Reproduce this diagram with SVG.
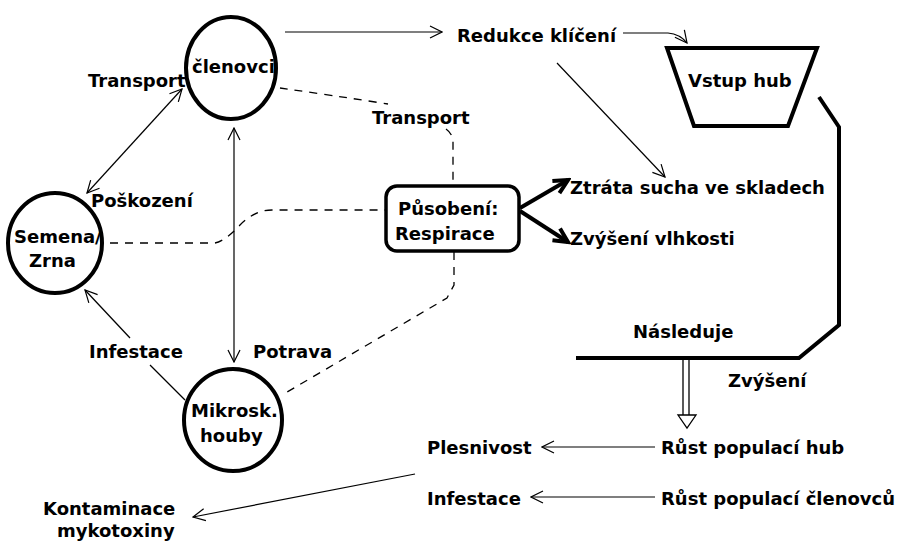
<svg xmlns="http://www.w3.org/2000/svg" width="902" height="541" viewBox="0 0 902 541">
<style>
text{font-family:"DejaVu Sans","Liberation Sans",sans-serif;font-weight:bold;font-size:18px;fill:#000}
.node{fill:#fff;stroke:#000;stroke-width:4}
.thin{fill:none;stroke:#000;stroke-width:1.2}
.dash{fill:none;stroke:#000;stroke-width:1.3;stroke-dasharray:8 7}
.thick{fill:none;stroke:#000;stroke-width:4}
</style>
<defs>
<marker id="open" markerUnits="userSpaceOnUse" markerWidth="14" markerHeight="14" viewBox="0 0 14 14" refX="13" refY="7" orient="auto-start-reverse">
<path d="M1,1 L13,7 L1,13" fill="none" stroke="#000" stroke-width="1.2"/>
</marker>
<marker id="bold" markerUnits="userSpaceOnUse" markerWidth="20" markerHeight="20" viewBox="0 0 20 20" refX="17" refY="10" orient="auto">
<path d="M3,3 L17,10 L3,17" fill="none" stroke="#000" stroke-width="4"/>
</marker>
<marker id="hollow" markerUnits="userSpaceOnUse" markerWidth="22" markerHeight="16" viewBox="0 0 22 16" refX="2" refY="8" orient="auto">
<path d="M1,1 L14,8 L1,15 Z" fill="#fff" stroke="#000" stroke-width="1.3"/>
</marker>
</defs>

<g id="connectors">
<line class="thin" x1="285" y1="32" x2="442" y2="32" marker-end="url(#open)"/>
<path class="thin" d="M623,33 L668,33 Q680,34 687,43" marker-end="url(#open)"/>
<line class="thin" x1="557" y1="63" x2="665" y2="177" marker-end="url(#open)"/>
<line class="thin" x1="182" y1="89" x2="87" y2="193" marker-start="url(#open)" marker-end="url(#open)"/>
<line class="thin" x1="234" y1="128" x2="234" y2="362" marker-start="url(#open)" marker-end="url(#open)"/>
<line class="thin" x1="185" y1="400" x2="150" y2="365"/>
<line class="thin" x1="130" y1="338" x2="85" y2="290" marker-end="url(#open)"/>
<line class="thin" x1="415" y1="474" x2="193" y2="517" marker-end="url(#open)"/>
<line class="thin" x1="655" y1="447" x2="542" y2="447" marker-end="url(#open)"/>
<line class="thin" x1="655" y1="497" x2="531" y2="497" marker-end="url(#open)"/>
<path class="dash" d="M280,88 Q330,95 388,104"/>
<path class="dash" d="M446,129 Q453,134 453,142 L453,185"/>
<path class="dash" d="M454,252 L454,285 L447,298 L282,395"/>
<path class="dash" d="M110,243 L215,243 Q225,241 240,225 Q255,210 272,210 L385,210"/>
<line x1="520" y1="208" x2="568" y2="180" stroke="#000" stroke-width="4" marker-end="url(#bold)"/>
<line x1="520" y1="211" x2="568" y2="242" stroke="#000" stroke-width="4" marker-end="url(#bold)"/>
<polyline class="thick" points="819,97 839,127 839,325 799,358 576,358"/>
<line x1="683" y1="360" x2="683" y2="415" stroke="#000" stroke-width="1.3"/>
<line x1="689" y1="360" x2="689" y2="415" stroke="#000" stroke-width="1.3"/>
<path d="M678,415 L696,415 L687,428 Z" fill="#fff" stroke="#000" stroke-width="1.3"/>
</g>

<g id="clenovci">
<ellipse class="node" cx="231" cy="68" rx="45" ry="51"/>
<text x="192" y="73">členovci</text>
</g>
<g id="semena">
<ellipse class="node" cx="55" cy="243" rx="47" ry="50"/>
<text x="14" y="243">Semena/</text>
<text x="29" y="267">Zrna</text>
</g>
<g id="mikrosk">
<ellipse class="node" cx="233" cy="420" rx="49" ry="51"/>
<text x="191" y="417">Mikrosk.</text>
<text x="200" y="442">houby</text>
</g>
<g id="pusobeni">
<rect x="386" y="186" width="133" height="65" rx="11" fill="#fff" stroke="#000" stroke-width="3.5"/>
<text x="398" y="215">Působení:</text>
<text x="395" y="240">Respirace</text>
</g>
<g id="vstup">
<polygon points="667,48 817,48 788,126 694,126" fill="#fff" stroke="#000" stroke-width="4"/>
<text x="688" y="87">Vstup hub</text>
</g>

<g id="labels">
<text x="88" y="87">Transport</text>
<text x="372" y="124">Transport</text>
<text x="91" y="207">Poškození</text>
<text x="89" y="358">Infestace</text>
<text x="253" y="358">Potrava</text>
<text x="43" y="515">Kontaminace</text>
<text x="57" y="537">mykotoxiny</text>
<text x="457" y="42">Redukce klíčení</text>
<text x="570" y="194">Ztráta sucha ve skladech</text>
<text x="570" y="245">Zvýšení vlhkosti</text>
<text x="633" y="338">Následuje</text>
<text x="728" y="387">Zvýšení</text>
<text x="427" y="454">Plesnivost</text>
<text x="661" y="454">Růst populací hub</text>
<text x="427" y="505">Infestace</text>
<text x="661" y="505">Růst populací členovců</text>
</g>
</svg>
